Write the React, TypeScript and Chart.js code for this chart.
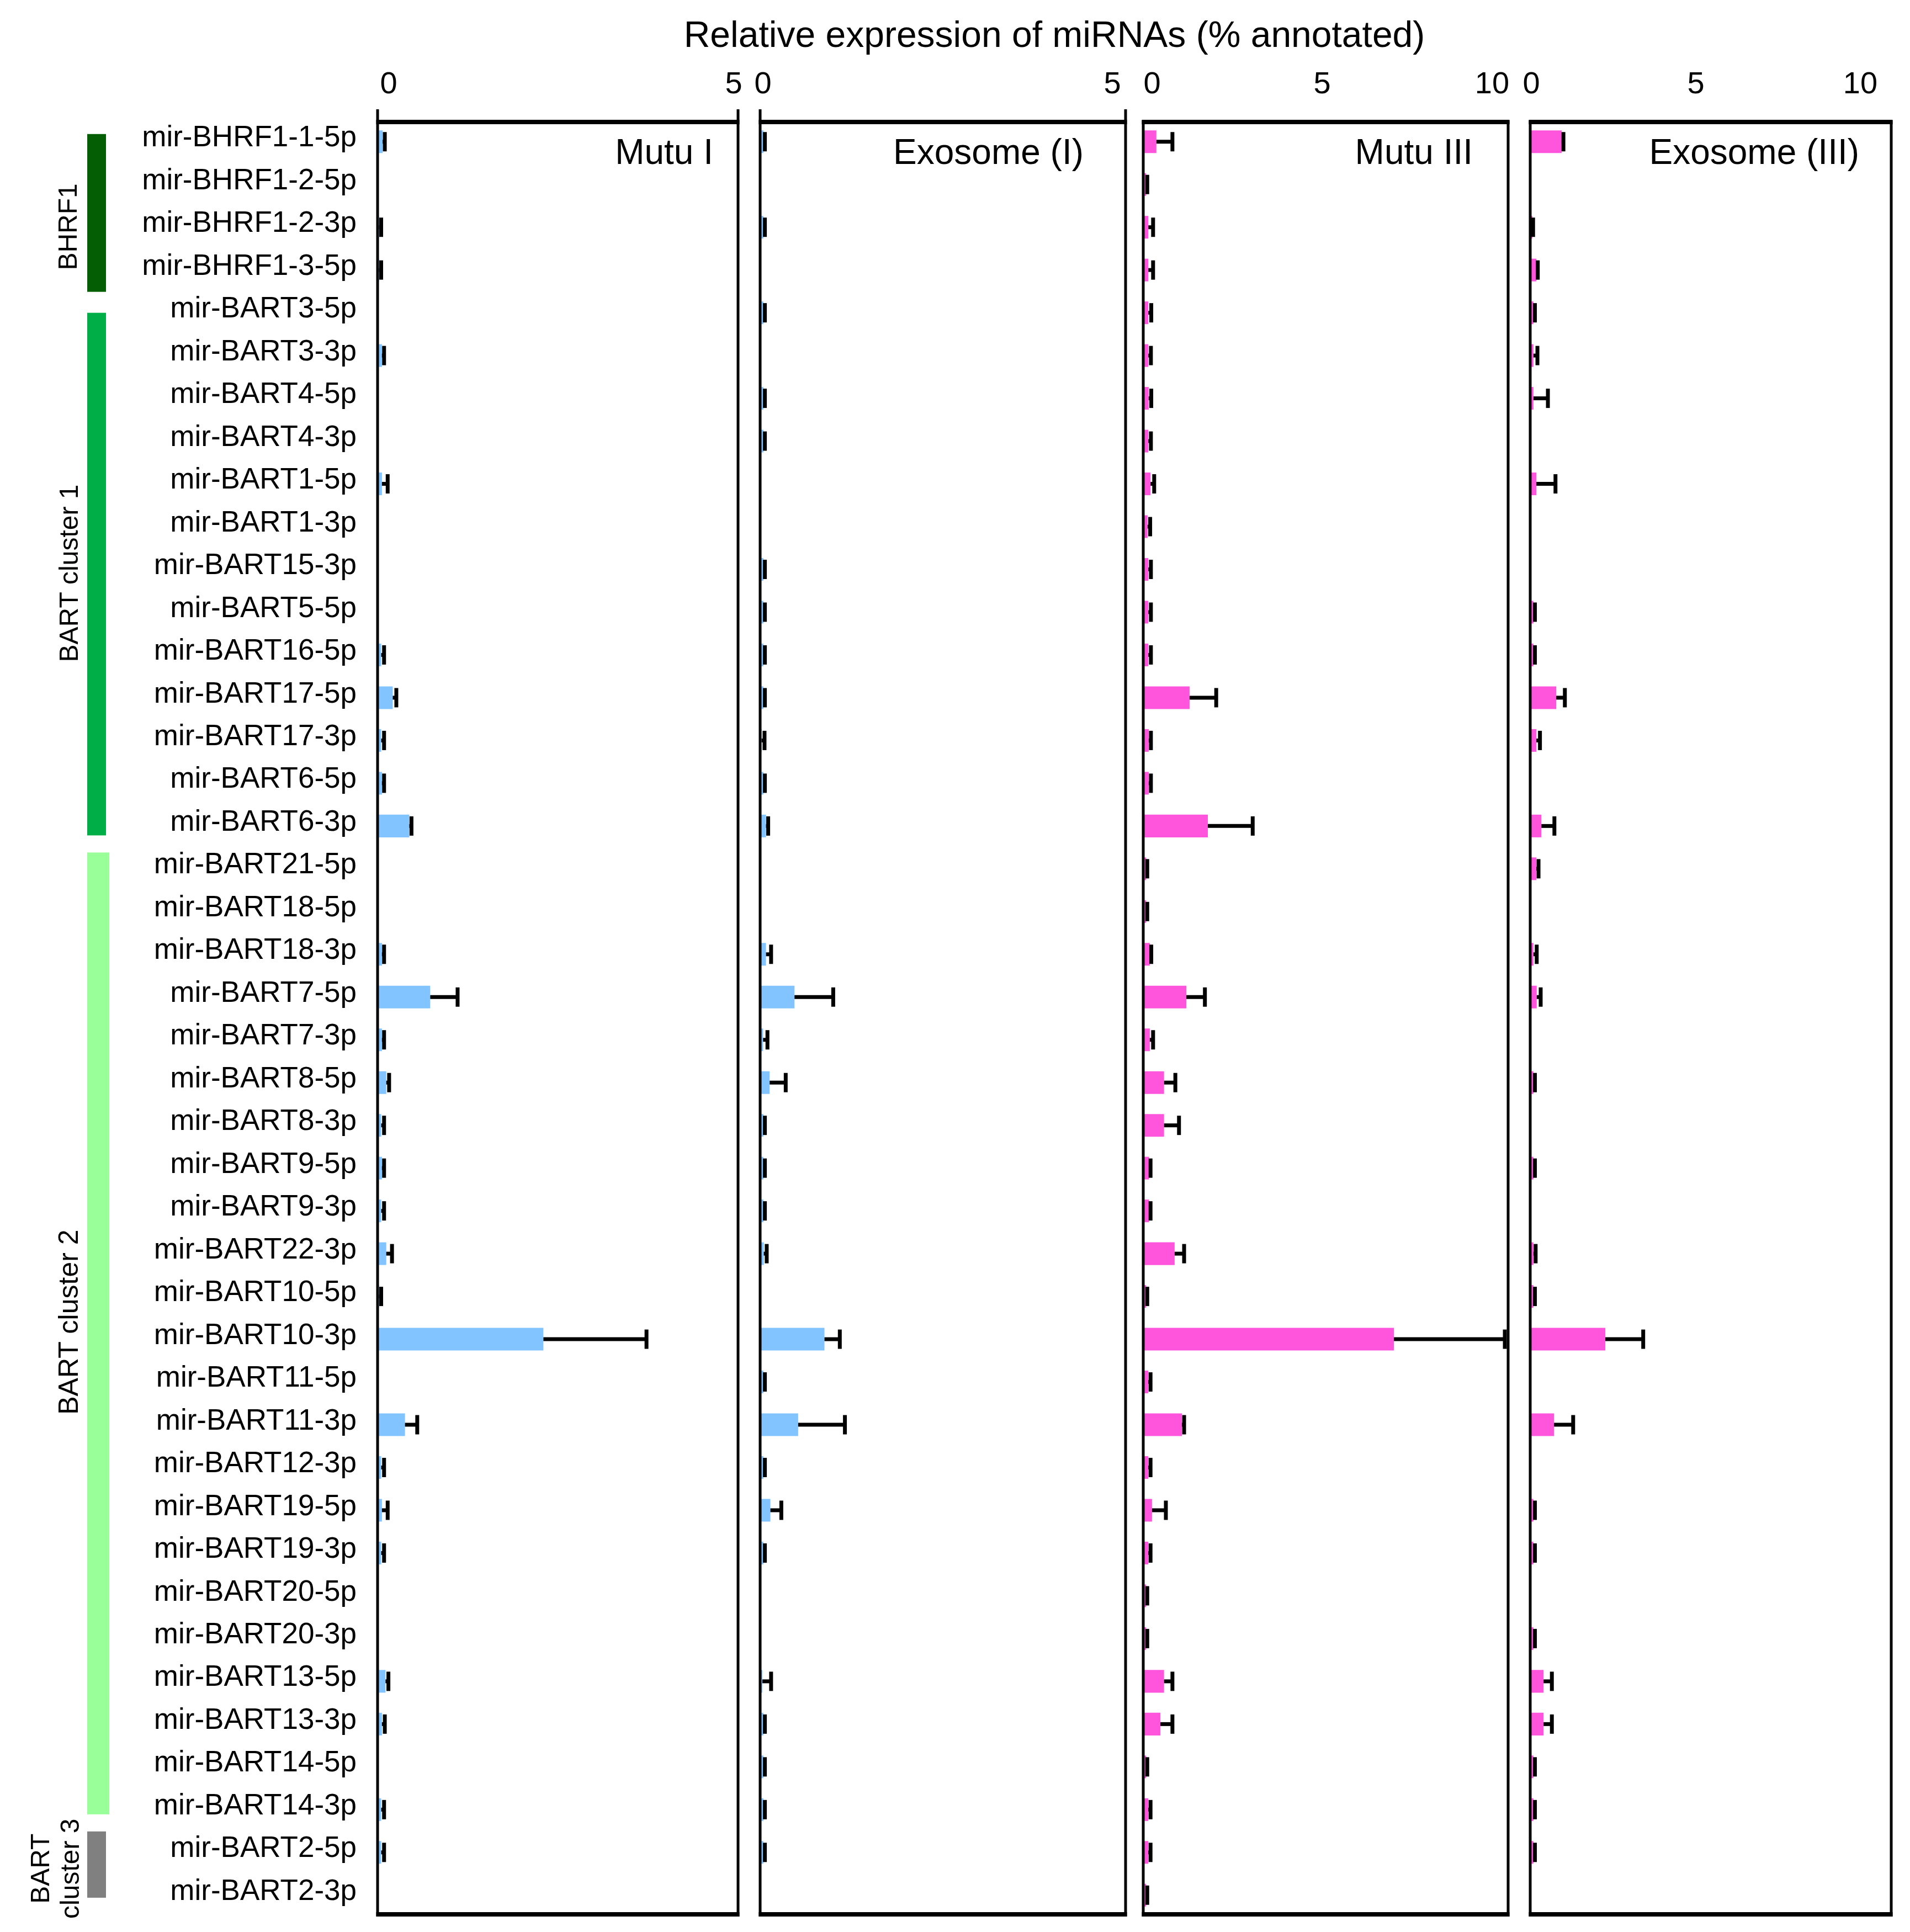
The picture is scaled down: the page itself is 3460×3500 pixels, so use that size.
import React, { useEffect, useRef } from 'react';
import { Chart, registerables } from 'chart.js';

Chart.register(...registerables);

const FONT = '"Liberation Sans", Arial, Helvetica, sans-serif';

// ---------------- data ----------------
const categories = [
  'mir-BHRF1-1-5p', 'mir-BHRF1-2-5p', 'mir-BHRF1-2-3p', 'mir-BHRF1-3-5p',
  'mir-BART3-5p', 'mir-BART3-3p', 'mir-BART4-5p', 'mir-BART4-3p',
  'mir-BART1-5p', 'mir-BART1-3p', 'mir-BART15-3p', 'mir-BART5-5p',
  'mir-BART16-5p', 'mir-BART17-5p', 'mir-BART17-3p', 'mir-BART6-5p',
  'mir-BART6-3p', 'mir-BART21-5p', 'mir-BART18-5p', 'mir-BART18-3p',
  'mir-BART7-5p', 'mir-BART7-3p', 'mir-BART8-5p', 'mir-BART8-3p',
  'mir-BART9-5p', 'mir-BART9-3p', 'mir-BART22-3p', 'mir-BART10-5p',
  'mir-BART10-3p', 'mir-BART11-5p', 'mir-BART11-3p', 'mir-BART12-3p',
  'mir-BART19-5p', 'mir-BART19-3p', 'mir-BART20-5p', 'mir-BART20-3p',
  'mir-BART13-5p', 'mir-BART13-3p', 'mir-BART14-5p', 'mir-BART14-3p',
  'mir-BART2-5p', 'mir-BART2-3p',
];

const mutuI = [
  0.07, 0, 0.02, 0.02, 0, 0.06, 0, 0, 0.06, 0, 0, 0,
  0.05, 0.21, 0.05, 0.06, 0.44, 0, 0, 0.06, 0.73, 0.06, 0.12, 0.05,
  0.06, 0.05, 0.12, 0.02, 2.30, 0, 0.38, 0.05, 0.06, 0.05, 0, 0,
  0.11, 0.06, 0, 0.05, 0.05, 0,
];
const mutuIErr = [
  0.03, 0, 0.03, 0.03, 0, 0.03, 0, 0, 0.08, 0, 0, 0,
  0.04, 0.05, 0.04, 0.03, 0.03, 0, 0, 0.03, 0.38, 0.03, 0.04, 0.04,
  0.03, 0.04, 0.08, 0.03, 1.43, 0, 0.17, 0.04, 0.08, 0.04, 0, 0,
  0.04, 0.04, 0, 0.04, 0.04, 0,
];

const exosomeI = [
  0.045, 0, 0.045, 0, 0.045, 0, 0.045, 0.045, 0, 0, 0.045, 0.045,
  0.045, 0.045, 0.02, 0.045, 0.08, 0, 0, 0.08, 0.47, 0.04, 0.13, 0.045,
  0.045, 0.045, 0.05, 0, 0.88, 0.045, 0.52, 0.045, 0.14, 0.045, 0, 0,
  0.03, 0.045, 0.045, 0.045, 0.045, 0,
];
const exosomeIErr = [
  0.02, 0, 0.02, 0, 0.02, 0, 0.02, 0.02, 0, 0, 0.02, 0.02,
  0.02, 0.02, 0.04, 0.02, 0.03, 0, 0, 0.07, 0.53, 0.06, 0.22, 0.02,
  0.02, 0.02, 0.04, 0, 0.21, 0.02, 0.64, 0.02, 0.15, 0.02, 0, 0,
  0.12, 0.02, 0.02, 0.02, 0.02, 0,
];

const mutuIII = [
  0.36, 0.08, 0.14, 0.14, 0.14, 0.14, 0.15, 0.14, 0.20, 0.12, 0.14, 0.14,
  0.14, 1.27, 0.15, 0.15, 1.77, 0.08, 0.08, 0.18, 1.18, 0.18, 0.57, 0.57,
  0.16, 0.16, 0.86, 0.08, 6.87, 0.14, 1.06, 0.14, 0.24, 0.14, 0.08, 0.08,
  0.57, 0.47, 0.08, 0.14, 0.14, 0.08,
];
const mutuIIIErr = [
  0.44, 0.03, 0.13, 0.13, 0.08, 0.07, 0.07, 0.07, 0.10, 0.07, 0.07, 0.07,
  0.07, 0.73, 0.06, 0.06, 1.23, 0.03, 0.03, 0.04, 0.51, 0.09, 0.31, 0.41,
  0.04, 0.04, 0.26, 0.03, 3.04, 0.06, 0.06, 0.06, 0.38, 0.06, 0.03, 0.03,
  0.23, 0.33, 0.03, 0.06, 0.06, 0.03,
];

const exosomeIII = [
  0.87, 0, 0.06, 0.17, 0.09, 0.09, 0.09, 0, 0.17, 0, 0, 0.09,
  0.09, 0.72, 0.17, 0, 0.31, 0.17, 0, 0.09, 0.18, 0, 0.09, 0,
  0.09, 0, 0.09, 0.09, 2.08, 0, 0.66, 0, 0.09, 0.09, 0, 0.09,
  0.37, 0.37, 0.09, 0.09, 0.09, 0,
];
const exosomeIIIErr = [
  0.05, 0, 0.02, 0.04, 0.04, 0.11, 0.40, 0, 0.53, 0, 0, 0.04,
  0.04, 0.24, 0.10, 0, 0.36, 0.06, 0, 0.09, 0.11, 0, 0.04, 0,
  0.04, 0, 0.06, 0.04, 1.05, 0, 0.53, 0, 0.04, 0.04, 0, 0.04,
  0.23, 0.23, 0.04, 0.04, 0.04, 0,
];

const panelTitles = ['Mutu I', 'Exosome (I)', 'Mutu III', 'Exosome (III)'];
const axisMax = [5, 5, 10, 10];
const tickValues = [[0, 5], [0, 5], [0, 5, 10], [0, 5, 10]];
const mainTitle = 'Relative expression of miRNAs (% annotated)';

const groupLabels = [['BHRF1'], ['BART cluster 1'], ['BART cluster 2'], ['BART', 'cluster 3']];
// spans of the cluster bars, in category units
const groupSpans = [[-0.18, 3.51], [4.0, 16.22], [16.62, 39.11], [39.51, 41.06]];
const groupLabelAt = [1.99, 10.09, 27.6, 40.38];

// ---------------- layout / style ----------------
const PAGE_W = 3460;
const PAGE_H = 3500;
const AREA_TOP = 218;
const AREA_BOTTOM = 3472;
const PAD_TOP = 100;
const MARGIN = 60;

const BLUE = '#82C4FF';
const PINK = '#FF55DD';

// labelFirst / labelLast: page x where the first and last tick label of the
// top axis are centred (the printed tick labels sit slightly inside the frame)
const panels = [
  { left: 684, right: 1337, color: BLUE, titleInset: 45, tickMarks: true, labelFirst: 704, labelLast: 1329 },
  { left: 1377, right: 2039, color: BLUE, titleInset: 76, tickMarks: true, labelFirst: 1382, labelLast: 2015 },
  { left: 2071, right: 2732, color: PINK, titleInset: 64, tickMarks: false, labelFirst: 2087, labelLast: 2703 },
  { left: 2772, right: 3426, color: PINK, titleInset: 58, tickMarks: false, labelFirst: 2774, labelLast: 3370 },
];

const seriesValues = [mutuI, exosomeI, mutuIII, exosomeIII];
const seriesErrors = [mutuIErr, exosomeIErr, mutuIIIErr, exosomeIIIErr];

const groupColors = ['#045F04', '#00AE47', '#99FF99', '#808080'];
const groupBarLeft = 158;
const groupBarWidths = [34, 34, 40, 34];
const groupBaselines = [[139], [141], [141], [89, 143]];
const groupFontSizes = [48, 48, 50, 48];

function errorBarPlugin(errs: number[]) {
  return {
    id: 'errorBars',
    afterDatasetsDraw(chart: any) {
      const { ctx } = chart;
      const xs = chart.scales.x;
      const ys = chart.scales.y;
      const vals = chart.data.datasets[0].data as number[];
      ctx.save();
      ctx.strokeStyle = '#000';
      ctx.lineWidth = 7;
      ctx.lineCap = 'butt';
      vals.forEach((v, i) => {
        const e = errs[i];
        if (!e) return;
        const py = ys.getPixelForValue(i);
        const x0 = xs.getPixelForValue(v);
        const x1 = xs.getPixelForValue(v + e);
        ctx.beginPath();
        ctx.moveTo(x0, py);
        ctx.lineTo(x1, py);
        ctx.stroke();
        ctx.beginPath();
        ctx.moveTo(x1, py - 17.5);
        ctx.lineTo(x1, py + 17.5);
        ctx.stroke();
      });
      ctx.restore();
    },
  };
}

function framePlugin(title: string, inset: number, tickMarks: boolean) {
  return {
    id: 'panelFrame',
    afterDraw(chart: any) {
      const { ctx } = chart;
      const { left, right, top, bottom } = chart.chartArea;
      ctx.save();
      ctx.fillStyle = '#000';
      ctx.fillRect(left - 2.5, top - 1, right - left + 5, 8);
      ctx.fillRect(left - 2.5, bottom - 8, right - left + 5, 8);
      const sideTop = tickMarks ? top - 20 : top;
      ctx.fillRect(left - 2.5, sideTop, 5, bottom - sideTop);
      ctx.fillRect(right - 2.5, sideTop, 5, bottom - sideTop);
      ctx.font = `64px ${FONT}`;
      ctx.textAlign = 'right';
      ctx.textBaseline = 'alphabetic';
      ctx.fillText(title, right - inset, top + 79);
      ctx.restore();
    },
  };
}

const annotationPlugin = {
  id: 'clusterAnnotations',
  afterDraw(chart: any) {
    const { ctx } = chart;
    const ys = chart.scales.y;
    ctx.save();
    ctx.fillStyle = '#000';
    ctx.font = `66px ${FONT}`;
    ctx.textAlign = 'center';
    ctx.textBaseline = 'alphabetic';
    ctx.fillText(mainTitle, 1910, 85);

    groupSpans.forEach(([a, b], g) => {
      const y0 = ys.getPixelForValue(a);
      const y1 = ys.getPixelForValue(b);
      ctx.fillStyle = groupColors[g];
      ctx.fillRect(groupBarLeft, y0, groupBarWidths[g], y1 - y0);

      const yc = ys.getPixelForValue(groupLabelAt[g]);
      ctx.save();
      ctx.translate(0, yc);
      ctx.rotate(-Math.PI / 2);
      ctx.fillStyle = '#000';
      ctx.font = `${groupFontSizes[g]}px ${FONT}`;
      ctx.textAlign = 'center';
      ctx.textBaseline = 'alphabetic';
      groupLabels[g].forEach((line, k) => {
        ctx.fillText(line, 0, groupBaselines[g][k]);
      });
      ctx.restore();
    });
    ctx.restore();
  },
};

function canvasBox(i: number) {
  const p = panels[i];
  if (i === 0) return { x: 0, w: PAGE_W };
  return { x: p.left - MARGIN, w: p.right - p.left + 2 * MARGIN };
}

function buildOptions(i: number): any {
  const p = panels[i];
  const first = i === 0;
  const ticks = tickValues[i];
  const lastTick = ticks[ticks.length - 1];
  const k = (p.labelLast - p.labelFirst) / lastTick;
  const lblMin = -(p.labelFirst - p.left) / k;
  const lblMax = (p.right - p.labelFirst) / k;
  return {
    indexAxis: 'y',
    responsive: false,
    animation: false,
    events: [],
    layout: {
      padding: {
        left: first ? 0 : MARGIN,
        right: first ? PAGE_W - p.right : MARGIN,
        top: PAD_TOP,
        bottom: PAGE_H - AREA_BOTTOM,
      },
    },
    plugins: {
      legend: { display: false },
      tooltip: { enabled: false },
      title: { display: false },
    },
    scales: {
      x: {
        type: 'linear',
        display: false,
        min: 0,
        max: axisMax[i],
      },
      xt: {
        type: 'linear',
        axis: 'x',
        position: 'top',
        min: lblMin,
        max: lblMax,
        afterBuildTicks: (s: any) => {
          s.ticks = ticks.map((v) => ({ value: v }));
        },
        ticks: {
          color: '#000',
          padding: 31,
          maxRotation: 0,
          autoSkip: false,
          font: { family: FONT, size: 56 },
        },
        grid: { display: false, drawTicks: false },
        border: { display: false },
        afterFit: (s: any) => {
          s.height = AREA_TOP - PAD_TOP;
          s.paddingLeft = 0;
          s.paddingRight = 0;
        },
      },
      y: {
        type: 'category',
        display: first,
        offset: true,
        ticks: {
          color: '#000',
          padding: 38,
          labelOffset: -6,
          autoSkip: false,
          font: { family: FONT, size: 53 },
        },
        grid: { display: false, drawTicks: false },
        border: { display: false },
        afterFit: (s: any) => {
          if (first) s.width = p.left;
          s.paddingTop = 0;
          s.paddingBottom = 0;
        },
      },
    },
  };
}

export default function App() {
  const r0 = useRef<HTMLCanvasElement>(null);
  const r1 = useRef<HTMLCanvasElement>(null);
  const r2 = useRef<HTMLCanvasElement>(null);
  const r3 = useRef<HTMLCanvasElement>(null);
  const refs = [r0, r1, r2, r3];

  useEffect(() => {
    const charts = panels.map((p, i) => {
      const plugins: any[] = [
        errorBarPlugin(seriesErrors[i]),
        framePlugin(panelTitles[i], p.titleInset, p.tickMarks),
      ];
      if (i === 0) plugins.push(annotationPlugin);
      return new Chart(refs[i].current as HTMLCanvasElement, {
        type: 'bar',
        data: {
          labels: categories,
          datasets: [
            {
              label: panelTitles[i],
              data: seriesValues[i],
              xAxisID: 'x',
              yAxisID: 'y',
              backgroundColor: p.color,
              borderWidth: 0,
              barPercentage: 0.53,
              categoryPercentage: 1,
            },
          ],
        },
        options: buildOptions(i),
        plugins,
      });
    });
    return () => charts.forEach((c) => c.destroy());
  }, []);

  return (
    <div
      style={{
        position: 'absolute',
        left: 0,
        top: 0,
        width: PAGE_W,
        height: PAGE_H,
        background: '#fff',
        overflow: 'hidden',
      }}
    >
      {panels.map((p, i) => {
        const box = canvasBox(i);
        return (
          <canvas
            key={i}
            ref={refs[i]}
            width={box.w}
            height={PAGE_H}
            style={{ position: 'absolute', left: box.x, top: 0 }}
          />
        );
      })}
    </div>
  );
}
